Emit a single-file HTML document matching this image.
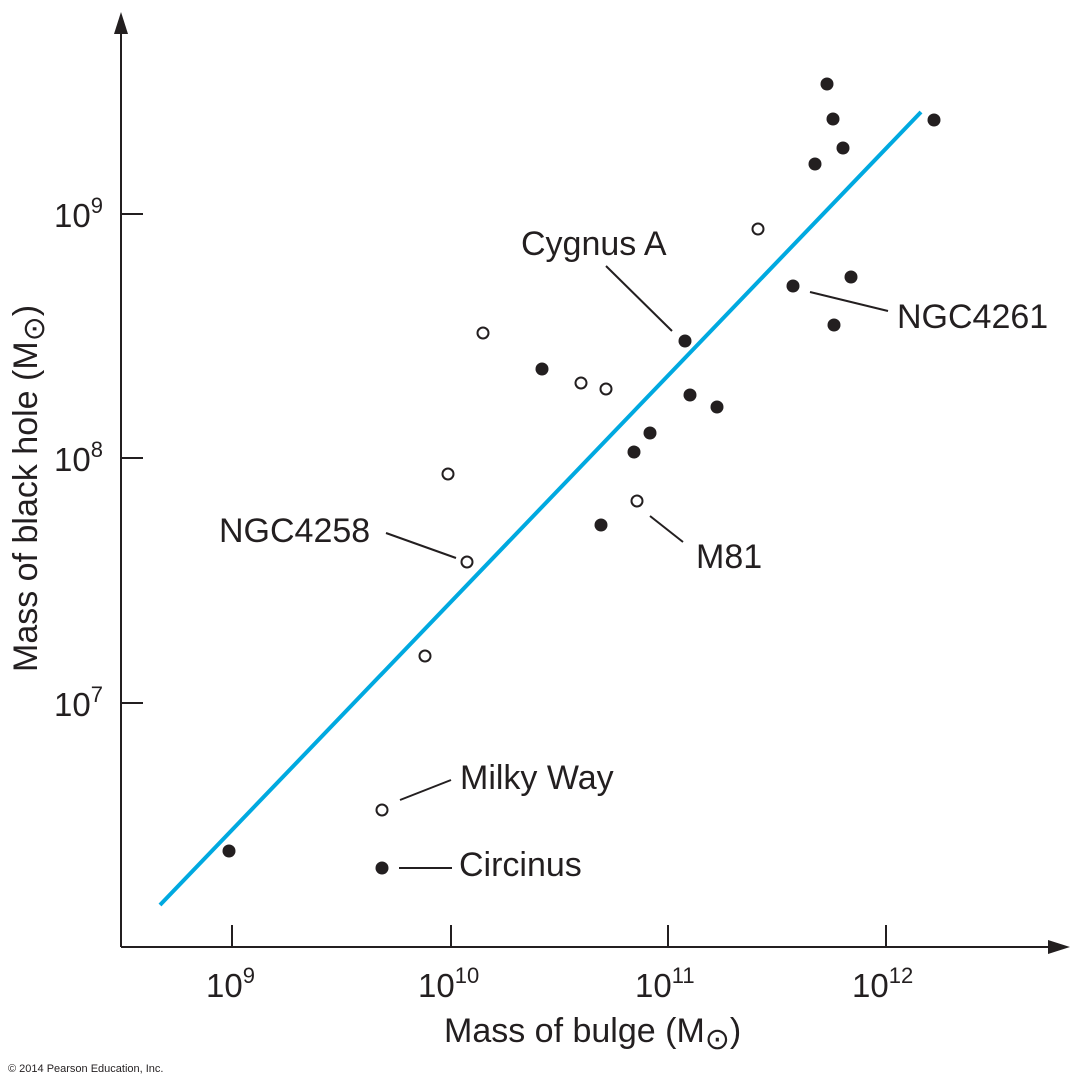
<!DOCTYPE html>
<html><head><meta charset="utf-8"><style>
html,body{margin:0;padding:0;background:#fff;}
svg{display:block;font-family:"Liberation Sans",Arial,sans-serif;}
</style></head><body>
<svg width="1085" height="1088" viewBox="0 0 1085 1088" xmlns="http://www.w3.org/2000/svg">
<g stroke="#231f20" stroke-width="2" fill="none">
<line x1="121" y1="28" x2="121" y2="947"/>
<line x1="121" y1="947" x2="1058" y2="947"/>
<line x1="232" y1="925" x2="232" y2="947"/>
<line x1="451" y1="925" x2="451" y2="947"/>
<line x1="668" y1="925" x2="668" y2="947"/>
<line x1="886" y1="925" x2="886" y2="947"/>
<line x1="121" y1="214" x2="143" y2="214"/>
<line x1="121" y1="458" x2="143" y2="458"/>
<line x1="121" y1="703" x2="143" y2="703"/>
</g>
<polygon points="121,12 114,34 128,34" fill="#231f20"/>
<polygon points="1070,947 1048,940 1048,954" fill="#231f20"/>
<line x1="160" y1="905" x2="921" y2="112" stroke="#00a9e0" stroke-width="4"/>
<g stroke="#231f20" stroke-width="2">
<line x1="606" y1="266" x2="672" y2="331"/>
<line x1="810" y1="292" x2="888" y2="311"/>
<line x1="386" y1="533" x2="456" y2="558"/>
<line x1="650" y1="516" x2="683" y2="542"/>
<line x1="400" y1="800" x2="451" y2="780"/>
<line x1="399" y1="868" x2="452" y2="868"/>
</g>
<g fill="#231f20">
<circle cx="827" cy="84" r="6.5"/><circle cx="833" cy="119" r="6.5"/><circle cx="934" cy="120" r="6.5"/>
<circle cx="843" cy="148" r="6.5"/><circle cx="815" cy="164" r="6.5"/><circle cx="851" cy="277" r="6.5"/>
<circle cx="793" cy="286" r="6.5"/><circle cx="834" cy="325" r="6.5"/><circle cx="685" cy="341" r="6.5"/>
<circle cx="542" cy="369" r="6.5"/><circle cx="690" cy="395" r="6.5"/><circle cx="717" cy="407" r="6.5"/>
<circle cx="650" cy="433" r="6.5"/><circle cx="634" cy="452" r="6.5"/><circle cx="601" cy="525" r="6.5"/>
<circle cx="229" cy="851" r="6.5"/><circle cx="382" cy="868" r="6.5"/>
</g>
<g fill="#fff" stroke="#231f20" stroke-width="2">
<circle cx="758" cy="229" r="5.5"/><circle cx="483" cy="333" r="5.5"/><circle cx="581" cy="383" r="5.5"/>
<circle cx="606" cy="389" r="5.5"/><circle cx="448" cy="474" r="5.5"/><circle cx="637" cy="501" r="5.5"/>
<circle cx="467" cy="562" r="5.5"/><circle cx="425" cy="656" r="5.5"/><circle cx="382" cy="810" r="5.5"/>
</g>
<g fill="#231f20" font-size="34">
<text x="521" y="255">Cygnus A</text>
<text x="897" y="328">NGC4261</text>
<text x="219" y="542">NGC4258</text>
<text x="696" y="568">M81</text>
<text x="460" y="789">Milky Way</text>
<text x="459" y="876">Circinus</text>
</g>
<g fill="#231f20" font-size="33">
<text x="206" y="997">10<tspan font-size="22" dy="-14">9</tspan></text>
<text x="418" y="997">10<tspan font-size="22" dy="-14">10</tspan></text>
<text x="635" y="997">10<tspan font-size="22" dy="-14">11</tspan></text>
<text x="852" y="997">10<tspan font-size="22" dy="-14">12</tspan></text>
<text x="54" y="227">10<tspan font-size="22" dy="-14">9</tspan></text>
<text x="54" y="471">10<tspan font-size="22" dy="-14">8</tspan></text>
<text x="54" y="716">10<tspan font-size="22" dy="-14">7</tspan></text>
</g>
<g fill="#231f20" font-size="34">
<text x="444" y="1042">Mass of bulge (M<tspan font-size="30" dy="7">⊙</tspan><tspan dy="-7">)</tspan></text>
<text transform="translate(37,672) rotate(-90)">Mass of black hole (M<tspan font-size="30" dy="7">⊙</tspan><tspan dy="-7">)</tspan></text>
</g>
<text x="8" y="1072" font-size="11" fill="#231f20">© 2014 Pearson Education, Inc.</text>
</svg>
</body></html>
